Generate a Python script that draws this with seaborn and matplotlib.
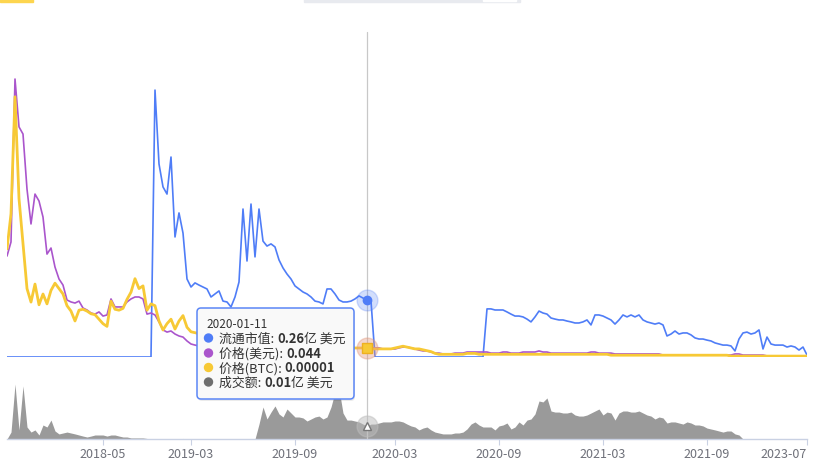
import numpy as np
import pandas as pd
import seaborn as sns
import matplotlib.pyplot as plt
from matplotlib.patches import FancyBboxPatch, Rectangle, Circle
from matplotlib.transforms import IdentityTransform

# ---- data (one row per category on the x axis) ----
# circulating market cap, 亿美元
market_cap = [
    0, 0, 0, 0, 0, 0, 0, 0, 0, 0,
    0, 0, 0, 0, 0, 0, 0, 0, 0, 0,
    0, 0, 0, 0, 0, 0, 0, 0, 0, 0,
    0, 0, 0, 0, 0, 0, 0,
    1.232, 0.891, 0.785, 0.752, 0.923, 0.554, 0.665, 0.572, 0.360, 0.323,
    0.342, 0.332, 0.323, 0.314, 0.277, 0.291, 0.305, 0.258, 0.254, 0.231,
    0.277, 0.346, 0.683, 0.443, 0.706, 0.462, 0.683, 0.535, 0.512, 0.522,
    0.508, 0.448, 0.411, 0.383, 0.360, 0.328, 0.314, 0.300, 0.291, 0.277,
    0.258, 0.254, 0.245, 0.314, 0.314, 0.291, 0.263, 0.254, 0.254, 0.258,
    0.268, 0.282, 0.272, 0.263, 0.258,
    0, 0, 0, 0, 0, 0, 0, 0, 0, 0,
    0, 0, 0, 0, 0, 0, 0, 0, 0, 0,
    0, 0, 0, 0, 0, 0, 0, 0,
    0.222,
    0.222, 0.217, 0.217, 0.217, 0.208, 0.198, 0.189, 0.189, 0.185, 0.175,
    0.162, 0.185, 0.212, 0.203, 0.198, 0.180, 0.175, 0.171, 0.171, 0.166,
    0.162, 0.157, 0.157, 0.162, 0.171, 0.148, 0.194, 0.194, 0.189, 0.180,
    0.171, 0.152, 0.171, 0.194, 0.185, 0.194, 0.185, 0.194, 0.171, 0.162,
    0.157, 0.152, 0.157, 0.148, 0.097, 0.106, 0.120, 0.106, 0.111, 0.111,
    0.102, 0.088, 0.083, 0.083, 0.078, 0.074, 0.065, 0.060, 0.055, 0.055,
    0.051, 0.028, 0.083, 0.111, 0.115, 0.106, 0.111, 0.125, 0.037, 0.092,
    0.060, 0.055, 0.055, 0.055, 0.046, 0.051, 0.046, 0.032, 0.046,
    0.009,
]

# price in USD
price_usd = [
    0.466, 0.531, 1.283, 1.062, 1.029, 0.775, 0.614, 0.752, 0.720, 0.646,
    0.475, 0.503, 0.415, 0.360, 0.332, 0.263, 0.254, 0.249, 0.258, 0.226,
    0.217, 0.203, 0.198, 0.208, 0.189, 0.194, 0.268, 0.231, 0.231, 0.231,
    0.254, 0.268, 0.277, 0.277, 0.268, 0.198, 0.203, 0.194, 0.162, 0.125,
    0.115, 0.120, 0.106, 0.097, 0.092, 0.074, 0.060, 0.055, 0.051, 0.051,
    0.051, 0.051, 0.046, 0.051, 0.046, 0.046, 0.046, 0.051, 0.046, 0.046,
    0.042, 0.046, 0.046, 0.042, 0.042, 0.042, 0.046, 0.042, 0.042, 0.042,
    0.042, 0.037, 0.042, 0.042, 0.037, 0.042, 0.042, 0.037, 0.042, 0.042,
    0.042, 0.042, 0.042, 0.037, 0.042, 0.042, 0.042, 0.042, 0.042, 0.042,
    0.044, 0.042, 0.042, 0.042, 0.037, 0.037, 0.037, 0.037, 0.042, 0.046,
    0.046, 0.042, 0.037, 0.032, 0.028, 0.028, 0.023, 0.018, 0.018, 0.014,
    0.014, 0.014, 0.018, 0.018, 0.018, 0.023, 0.023, 0.023, 0.023, 0.023,
    0.023, 0.018, 0.018, 0.018, 0.023, 0.023, 0.018, 0.018, 0.018, 0.023,
    0.023, 0.023, 0.023, 0.028, 0.023, 0.023, 0.018, 0.018, 0.018, 0.018,
    0.018, 0.018, 0.018, 0.018, 0.018, 0.018, 0.023, 0.023, 0.018, 0.018,
    0.018, 0.018, 0.014, 0.014, 0.014, 0.014, 0.014, 0.014, 0.014, 0.014,
    0.014, 0.014, 0.014, 0.014, 0.009, 0.009, 0.009, 0.009, 0.009, 0.009,
    0.009, 0.009, 0.009, 0.009, 0.009, 0.009, 0.009, 0.009, 0.009, 0.009,
    0.009, 0.009, 0.014, 0.014, 0.009, 0.009, 0.009, 0.009, 0.009, 0.009,
    0.005, 0.005, 0.005, 0.005, 0.005, 0.005, 0.005, 0.005, 0.005, 0.005,
    0.005,
]

# price in BTC, units of 0.00001 BTC
price_btc = [
    12.0, 15.9, 28.9, 17.6, 12.6, 7.6, 6.1, 8.1, 5.8, 7.0,
    5.9, 7.4, 8.2, 7.6, 7.0, 5.7, 5.1, 4.0, 5.2, 5.3,
    5.1, 4.8, 4.7, 4.2, 3.7, 3.4, 6.2, 5.3, 5.2, 5.4,
    6.4, 7.2, 8.7, 7.6, 7.9, 5.2, 5.9, 5.7, 4.0, 3.0,
    3.7, 4.2, 3.1, 4.0, 4.6, 3.3, 2.8, 2.7, 2.6, 2.4,
    2.3, 2.3, 2.2, 2.2, 2.1, 2.0, 1.9, 1.9, 1.8, 1.8,
    1.7, 1.7, 1.6, 1.6, 1.4, 1.4, 1.4, 1.3, 1.3, 1.3,
    1.2, 1.2, 1.2, 1.2, 1.1, 1.1, 1.1, 1.1, 1.1, 1.0,
    1.0, 1.0, 1.0, 1.0, 1.0, 1.0, 1.0, 1.0, 1.0, 1.0,
    1.0, 0.9, 0.9, 0.9, 0.9, 0.9, 0.9, 1.0, 1.1, 1.2,
    1.1, 1.0, 0.9, 0.9, 0.8, 0.7, 0.6, 0.4, 0.3, 0.3,
    0.3, 0.3, 0.3, 0.3, 0.3, 0.4, 0.4, 0.4, 0.3, 0.3,
    0.3, 0.3, 0.3, 0.3, 0.3, 0.3, 0.3, 0.3, 0.3, 0.3,
    0.3, 0.3, 0.3, 0.3, 0.3, 0.3, 0.3, 0.3, 0.3, 0.3,
    0.3, 0.3, 0.3, 0.3, 0.3, 0.3, 0.3, 0.3, 0.3, 0.3,
    0.3, 0.2, 0.2, 0.2, 0.2, 0.2, 0.2, 0.2, 0.2, 0.2,
    0.2, 0.2, 0.2, 0.2, 0.2, 0.2, 0.2, 0.2, 0.2, 0.2,
    0.2, 0.2, 0.2, 0.2, 0.2, 0.2, 0.2, 0.2, 0.2, 0.2,
    0.2, 0.1, 0.1, 0.1, 0.1, 0.1, 0.1, 0.1, 0.1, 0.1,
    0.1, 0.1, 0.1, 0.1, 0.1, 0.1, 0.1, 0.1, 0.1, 0.1,
    0.1,
]

# trading volume, 万美元
volume = [
    0, 52, 412, 68, 398, 90, 52, 68, 30, 105,
    90, 142, 60, 38, 45, 52, 45, 38, 30, 22,
    15, 22, 30, 30, 30, 22, 30, 30, 22, 15,
    15, 8, 8, 8, 8, 4, 0, 0, 0, 0,
    0, 3, 0, 0, 4, 0, 0, 2, 0, 0,
    0, 0, 3, 0, 0, 2, 0, 0, 0, 0,
    0, 0, 0, 112, 240, 150, 202, 248, 188, 165,
    225, 195, 165, 165, 158, 135, 150, 165, 172, 150,
    165, 240, 352, 375, 195, 142, 142, 135, 128, 112,
    98, 112, 112, 120, 128, 128, 128, 135, 135, 128,
    112, 98, 90, 68, 82, 90, 68, 52, 45, 38,
    38, 38, 45, 45, 52, 75, 112, 128, 105, 90,
    90, 90, 68, 98, 105, 120, 75, 90, 128, 105,
    142, 150, 188, 285, 278, 308, 210, 202, 202, 195,
    195, 202, 180, 172, 172, 180, 195, 210, 225, 180,
    202, 195, 142, 195, 210, 210, 202, 202, 210, 195,
    180, 172, 150, 165, 158, 120, 128, 128, 120, 112,
    128, 120, 105, 105, 98, 82, 75, 68, 60, 52,
    60, 60, 38, 30, 0, 2, 2, 3, 2, 2,
    2, 3, 2, 2, 2, 0, 0, 2, 0, 0,
    0,
]

tick_pos = [24, 46, 72, 97, 123, 149, 175, 200]
tick_labels = ['2018-05', '2019-03', '2019-09', '2020-03',
               '2020-09', '2021-03', '2021-09', '2023-07']

hover_idx = 90
hover_date = '2020-01-11'

BLUE = '#4f7df7'
PURPLE = '#aa55cc'
YELLOW = '#f7c935'
GRAY = '#9a9a9a'

df = pd.DataFrame({
    'idx': np.arange(len(market_cap)),
    'market_cap': market_cap,
    'price_usd': price_usd,
    'price_btc': price_btc,
    'volume': volume,
})

sns.set_theme(style='white')
plt.rcParams['font.family'] = ['Noto Sans CJK SC', 'DejaVu Sans']

W, H = 820, 464
fig = plt.figure(figsize=(W / 100, H / 100), dpi=100)
ax = fig.add_axes([7 / W, 106 / H, 800 / W, 325 / H])
ax_btc = ax.twinx()
ax_vol = fig.add_axes([7 / W, 24 / H, 800 / W, 60 / H])

# main lines
sns.lineplot(data=df, x='idx', y='market_cap', ax=ax, color=BLUE, linewidth=1.2)
sns.lineplot(data=df, x='idx', y='price_usd', ax=ax, color=PURPLE, linewidth=1.2)
sns.lineplot(data=df, x='idx', y='price_btc', ax=ax_btc, color=YELLOW, linewidth=2.0)

n = len(df) - 1
for a in (ax, ax_btc):
    a.set_xlim(0, n)
    a.axis('off')
ax.set_ylim(0, 1.5)
ax_btc.set_ylim(0, 36.1)

# volume area
ax_vol.fill_between(df['idx'], df['volume'], color=GRAY, linewidth=0)
ax_vol.set_xlim(0, n)
ax_vol.set_ylim(0, 450)
ax_vol.patch.set_alpha(0)
for s in ('left', 'right', 'top'):
    ax_vol.spines[s].set_visible(False)
ax_vol.spines['bottom'].set_color('#c9d1e3')
ax_vol.spines['bottom'].set_linewidth(1)
ax_vol.set_yticks([])
ax_vol.set_xlabel('')
ax_vol.set_ylabel('')
ax_vol.set_xticks(tick_pos)
ax_vol.set_xticklabels(tick_labels)
ax_vol.tick_params(axis='x', bottom=True, length=4, width=0.8, color='#c9d1e3',
                   labelcolor='#6e7079', labelsize=9, pad=2)
ax_vol.get_xticklabels()[-1].set_ha('right')

# crosshair + hover markers
ax.axvline(hover_idx, ymin=-22 / 325, ymax=1, color='#c8c8c8', lw=0.9, clip_on=False, zorder=1)
ax_vol.axvline(hover_idx, color='#c8c8c8', lw=0.9, zorder=3)

ax.plot(hover_idx, market_cap[hover_idx], 'o', ms=15, color=BLUE, alpha=0.25, clip_on=False, zorder=5)
ax.plot(hover_idx, market_cap[hover_idx], 'o', ms=6, color=BLUE, clip_on=False, zorder=6)
ax_btc.plot(hover_idx, price_btc[hover_idx], 'o', ms=15, color='#e39a80', alpha=0.4, clip_on=False, zorder=5)
ax_btc.plot(hover_idx, price_btc[hover_idx], 's', ms=6.5, color=YELLOW, mec='#eeb020', clip_on=False, zorder=6)
ax_vol.plot(hover_idx, volume[hover_idx], 'o', ms=15, color='#bdbdbd', alpha=0.5, zorder=5)
ax_vol.plot(hover_idx, volume[hover_idx], '^', ms=6, mfc='white', mec='#777777', mew=1, zorder=6)

# tooltip
ident = IdentityTransform()
shadow = FancyBboxPatch((198, H - 402), 157, 91, boxstyle='round,pad=0,rounding_size=4',
                        transform=ident, fc='#000000', ec='none', alpha=0.08, zorder=9)
box = FancyBboxPatch((197, H - 400), 157, 91, boxstyle='round,pad=0,rounding_size=4',
                     transform=ident, fc='#f9f9f9', ec='#5b86f6', lw=1.1, zorder=10)
fig.add_artist(shadow)
fig.add_artist(box)

renderer = fig.canvas.get_renderer()
fig.text(206 / W, 1 - 324 / H, hover_date, fontsize=8.5, color='#333333',
         va='center', ha='left', zorder=11)

rows = [
    (BLUE, '流通市值: ', f'{market_cap[hover_idx]:.2f}', '亿 美元'),
    (PURPLE, '价格(美元): ', f'{price_usd[hover_idx]:.3f}', ''),
    (YELLOW, '价格(BTC): ', f'{price_btc[hover_idx] * 1e-5:.5f}', ''),
    ('#6e6e6e', '成交额: ', f'{volume[hover_idx] / 10000:.2f}', '亿 美元'),
]
row_y = [339, 354, 368.5, 383]
for (c, label, val, unit), y in zip(rows, row_y):
    fig.add_artist(Circle((208.5, H - y), 4, transform=ident, color=c, zorder=11))
    x = 219
    for s, wt in ((label, 'normal'), (val, 'bold'), (unit, 'normal')):
        if not s:
            continue
        t = fig.text(x / W, 1 - y / H, s, fontsize=9.3, fontweight=wt, color='#333333',
                     va='center', ha='left', zorder=11)
        x += t.get_window_extent(renderer).width

# page bits cut off at the top of the screenshot
fig.add_artist(Rectangle((0, H - 3), 33, 3, transform=ident, color='#fdd54f', zorder=2))
fig.add_artist(Rectangle((304, H - 3), 216, 3, transform=ident, color='#e8eaef', zorder=2))
fig.add_artist(Rectangle((483, H - 1.5), 33, 1.5, transform=ident, color='#ffffff', zorder=3))

fig.savefig('out.png', dpi=100)
